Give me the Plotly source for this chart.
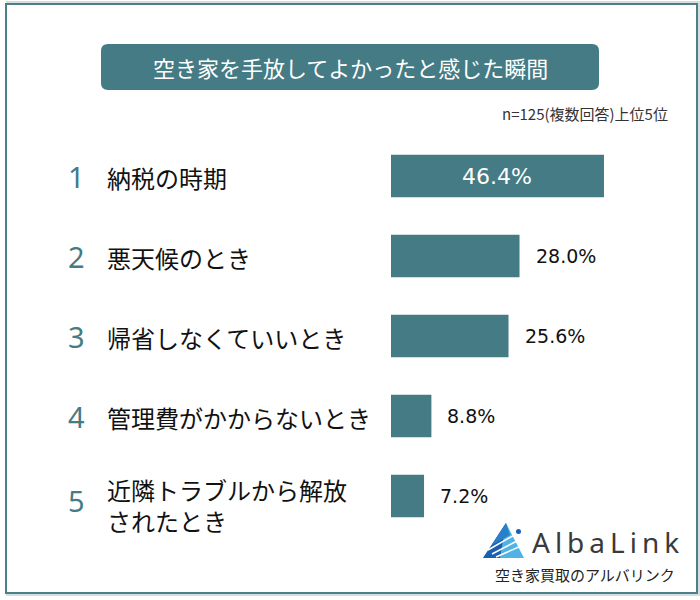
import plotly.graph_objects as go

ranks = ["1", "2", "3", "4", "5"]
labels = ["納税の時期", "悪天候のとき", "帰省しなくていいとき", "管理費がかからないとき", "近隣トラブルから解放<br>されたとき"]
values = [46.4, 28.0, 25.6, 8.8, 7.2]
title_text = "空き家を手放してよかったと感じた瞬間"
note_text = "n=125(複数回答)上位5位"

W, H = 700, 600
TEAL = "#447b84"
JP = "Noto Sans CJK JP"

def px(x):
    return x / W

def py(y):
    return 1 - y / H

ypos = list(range(len(values)))

fig = go.Figure()
fig.add_trace(go.Bar(
    x=values, y=ypos, orientation="h",
    marker=dict(color=TEAL, line=dict(width=0)),
    width=0.53, hoverinfo="skip",
))

annotations = []
shapes = []

# frame with slight shadow
shapes.append(dict(type="rect", xref="paper", yref="paper", x0=px(7), x1=px(699), y0=py(595), y1=py(2),
                   line=dict(color="#d8dcdc", width=2), fillcolor="rgba(0,0,0,0)", layer="below"))
shapes.append(dict(type="rect", xref="paper", yref="paper", x0=px(6), x1=px(697), y0=py(593), y1=py(4),
                   line=dict(color="#4a8087", width=2), fillcolor="white", layer="below"))

# title box (rounded)
x0, x1, y0, y1, r = 101, 599, 44, 90, 7
path = (f"M {px(x0+r)},{py(y0)} L {px(x1-r)},{py(y0)} Q {px(x1)},{py(y0)} {px(x1)},{py(y0+r)} "
        f"L {px(x1)},{py(y1-r)} Q {px(x1)},{py(y1)} {px(x1-r)},{py(y1)} "
        f"L {px(x0+r)},{py(y1)} Q {px(x0)},{py(y1)} {px(x0)},{py(y1-r)} "
        f"L {px(x0)},{py(y0+r)} Q {px(x0)},{py(y0)} {px(x0+r)},{py(y0)} Z")
shapes.append(dict(type="path", xref="paper", yref="paper", path=path, fillcolor=TEAL, line=dict(width=0)))
annotations.append(dict(xref="paper", yref="paper", x=px(350), y=py(67), text=title_text, showarrow=False,
                        font=dict(family=JP, size=22, color="white"), xanchor="center", yanchor="middle"))
annotations.append(dict(xref="paper", yref="paper", x=px(670), y=py(114), text=note_text, showarrow=False,
                        font=dict(family=JP, size=15, color="#333333"), xanchor="right", yanchor="middle"))

for i, (rk, lb, v) in enumerate(zip(ranks, labels, values)):
    two = "<br>" in lb
    annotations.append(dict(xref="paper", yref="y", x=px(76), y=i, yshift=-4 if two else 0,
                            text=rk, showarrow=False,
                            font=dict(family="Noto Sans", size=29, color=TEAL), xanchor="center", yanchor="middle"))
    annotations.append(dict(xref="paper", yref="y", x=px(105), y=i, yshift=-9 if two else -1, text=lb,
                            showarrow=False, align="left",
                            font=dict(family=JP, size=24, color="#111111"), xanchor="left", yanchor="middle"))
    if i == 0:
        annotations.append(dict(xref="x", yref="y", x=v / 2, y=i, text=f"{v:.1f}%", showarrow=False,
                                font=dict(family="DejaVu Sans", size=22, color="white"),
                                xanchor="center", yanchor="middle"))
    else:
        annotations.append(dict(xref="x", yref="y", x=v, y=i, xshift=14, text=f"{v:.1f}%", showarrow=False,
                                font=dict(family="DejaVu Sans", size=19, color="#111111"),
                                xanchor="left", yanchor="middle"))

# logo
shapes.append(dict(type="rect", xref="paper", yref="paper", x0=px(478), x1=px(688), y0=py(590), y1=py(520),
                   fillcolor="white", line=dict(width=0)))
def tri(pts, color):
    p = "M " + " L ".join(f"{px(a)},{py(b)}" for a, b in pts) + " Z"
    return dict(type="path", xref="paper", yref="paper", path=p, fillcolor=color, line=dict(width=0))
shapes.append(tri([(506, 523), (483, 558), (524, 558)], "#4fb3e6"))
shapes.append(tri([(506, 523), (483, 558), (500, 558)], "#1c5fae"))
shapes.append(tri([(506, 523), (492, 545), (510, 535)], "#2a7fc9"))
for (a, b, c, d) in [(488, 550, 516, 534), (492, 554, 519, 540), (496, 557, 521, 546)]:
    shapes.append(dict(type="line", xref="paper", yref="paper", x0=px(a), y0=py(b), x1=px(c), y1=py(d),
                       line=dict(color="white", width=1.5)))
shapes.append(dict(type="circle", xref="paper", yref="paper", x0=px(516), x1=px(521), y0=py(534), y1=py(529),
                   fillcolor="#1c5fae", line=dict(width=0)))
annotations.append(dict(xref="paper", yref="paper", x=px(530), y=py(542),
                        text='<span style="letter-spacing:5px">AlbaLink</span>', showarrow=False,
                        font=dict(family="Noto Sans", size=28, color="#3a3a3a"), xanchor="left", yanchor="middle"))
annotations.append(dict(xref="paper", yref="paper", x=px(585), y=py(574), text="空き家買取のアルバリンク", showarrow=False,
                        font=dict(family=JP, size=15, color="#222222"), xanchor="center", yanchor="middle"))

fig.update_layout(
    width=W, height=H, margin=dict(l=0, r=0, t=0, b=0),
    paper_bgcolor="white", plot_bgcolor="rgba(0,0,0,0)",
    showlegend=False,
    xaxis=dict(domain=[391 / W, 1], range=[0, 309 / 4.59], visible=False, fixedrange=True),
    yaxis=dict(domain=[64 / H, 464 / H], range=[4.5, -0.5], visible=False, fixedrange=True),
    shapes=shapes, annotations=annotations,
)
fig.write_html("out.html", config={"displayModeBar": False},
               post_script="document.body.style.margin='0';")
